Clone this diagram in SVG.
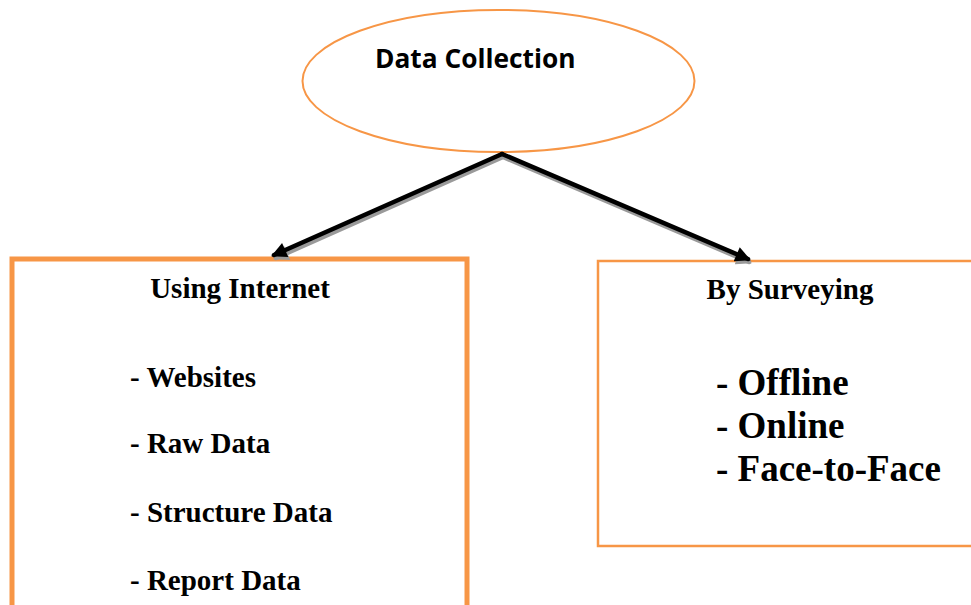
<svg xmlns="http://www.w3.org/2000/svg" width="971" height="605" viewBox="0 0 971 605">
<defs>
<style>
.orange{fill:#fff;stroke:#F79646}
.tnr{font-family:"Liberation Serif","Times New Roman",serif;font-weight:bold;fill:#000}
.cal{font-family:"Open Sans","Liberation Sans",sans-serif;font-weight:bold;fill:#000}
.conn{stroke:#000;stroke-width:4.5;fill:none;stroke-linecap:round}
.shadow{stroke:#9a9a9a;stroke-width:4.5;fill:none;stroke-linecap:round}
</style>
<marker id="ah" viewBox="0 0 10 10" refX="8" refY="5" markerWidth="3.6" markerHeight="3.4" orient="auto" markerUnits="strokeWidth">
<path d="M0,0 L10,5 L0,10 z" fill="#000"/>
</marker>
<marker id="ahs" viewBox="0 0 10 10" refX="8" refY="5" markerWidth="3.6" markerHeight="3.4" orient="auto" markerUnits="strokeWidth">
<path d="M0,0 L10,5 L0,10 z" fill="#9a9a9a"/>
</marker>
</defs>
<rect width="971" height="605" fill="#fff"/>
<g id="node-data-collection">
<ellipse class="orange" cx="498.5" cy="81" rx="196" ry="71" stroke-width="2"/>
<text class="cal" x="375" y="68" font-size="26.3">Data Collection</text>
</g>
<g id="node-using-internet">
<rect class="orange" x="12" y="259" width="455" height="360" stroke-width="5"/>
<text class="tnr" x="240" y="298" font-size="29" text-anchor="middle">Using Internet</text>
<text class="tnr" x="130" y="387" font-size="29">- Websites</text>
<text class="tnr" x="130" y="453" font-size="29">- Raw Data</text>
<text class="tnr" x="130" y="522" font-size="29">- Structure Data</text>
<text class="tnr" x="130" y="590" font-size="29">- Report Data</text>
</g>
<g id="node-by-surveying">
<rect class="orange" x="598" y="261" width="390" height="285" stroke-width="2.5"/>
<text class="tnr" x="790" y="299" font-size="29" text-anchor="middle">By Surveying</text>
<text class="tnr" x="716" y="395" font-size="37">- Offline</text>
<text class="tnr" x="716" y="438" font-size="37">- Online</text>
<text class="tnr" x="716" y="481" font-size="37">- Face-to-Face</text>
</g>
<g id="connectors">
<path class="shadow" d="M503,157 L276,258" marker-end="url(#ahs)"/>
<path class="shadow" d="M503,157 L749,262" marker-end="url(#ahs)"/>
<path class="conn" d="M502,154 L274,255" marker-end="url(#ah)"/>
<path class="conn" d="M502,154 L748,259" marker-end="url(#ah)"/>
</g>
</svg>
